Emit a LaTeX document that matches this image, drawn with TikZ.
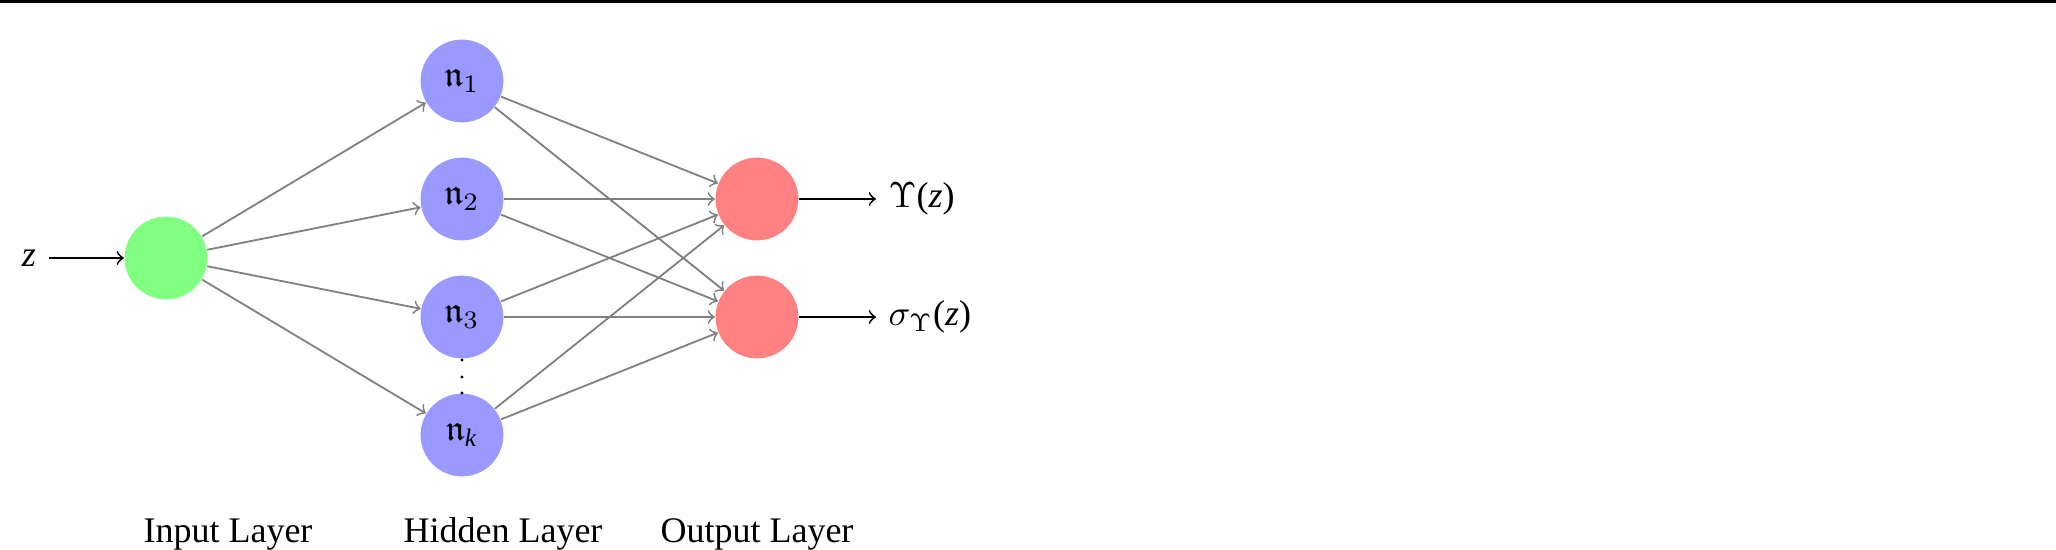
\documentclass[tikz,border=0pt]{standalone}
\usepackage{amssymb}
\usepackage{fontspec}
\setmainfont{Liberation Serif}
\usetikzlibrary{arrows}
\newcommand{\zvar}{\textit{z}}

\begin{document}
\begin{tikzpicture}[x=0.2778pt,y=0.2778pt,yscale=-1,xscale=1,
  neuron/.style={circle,minimum size=23pt,inner sep=0pt},
  inputneuron/.style={neuron,fill={rgb,255:red,128;green,255;blue,128}},
  hiddenneuron/.style={neuron,fill={rgb,255:red,153;green,153;blue,255}},
  outputneuron/.style={neuron,fill={rgb,255:red,255;green,128;blue,128}},
  synapse/.style={->,draw=gray,line width=0.5pt},
  signal/.style={->,draw=black,line width=0.5pt}]
\useasboundingbox (0,0) rectangle (2056,550);

%Top rule
\draw [line width=0.6pt] (0,1.5) -- (2056,1.5) ;

% Input neuron
\node [inputneuron] (in) at (166,258) {};
% Hidden neurons
\node [hiddenneuron] (h1) at (462,81) {$\mathfrak{n}_1$};
\node [hiddenneuron] (h2) at (462,199) {$\mathfrak{n}_2$};
\node [hiddenneuron] (h3) at (462,317) {$\mathfrak{n}_3$};
\node [hiddenneuron] (hk) at (462,435) {$\mathfrak{n}_{\mbox{\scriptsize\textit{k}}}$};
% Output neurons
\node [outputneuron] (o1) at (757,199) {};
\node [outputneuron] (o2) at (757,317) {};

% Dots between hidden neurons
\fill (462,360) circle (1.7) (462,377) circle (1.7) (462,393) circle (1.7) ;

% Text Node
\node (z) at (29,258) {\zvar};
% Text Node
\node [anchor=west] (y1) at (876,199) {$\Upsilon$(\zvar)};
% Text Node
\node [anchor=west] (y2) at (876,317) {$\sigma_{\Upsilon}$(\zvar)};

% Input arrows
\draw [signal] (z) -- (in) ;
\draw [synapse] (in) -- (h1) ;
\draw [synapse] (in) -- (h2) ;
\draw [synapse] (in) -- (h3) ;
\draw [synapse] (in) -- (hk) ;
% Hidden to output
\draw [synapse] (h1) -- (o1) ;
\draw [synapse] (h1) -- (o2) ;
\draw [synapse] (h2) -- (o1) ;
\draw [synapse] (h2) -- (o2) ;
\draw [synapse] (h3) -- (o1) ;
\draw [synapse] (h3) -- (o2) ;
\draw [synapse] (hk) -- (o1) ;
\draw [synapse] (hk) -- (o2) ;
% Output arrows
\draw [signal] (o1) -- (y1) ;
\draw [signal] (o2) -- (y2) ;

% Layer labels
\node [anchor=base] (inlabel) at (228,542) {Input Layer};
\node [anchor=base] (hidlabel) at (503,542) {Hidden Layer};
\node [anchor=base] (outlabel) at (757,542) {Output Layer};

\end{tikzpicture}
\end{document}
